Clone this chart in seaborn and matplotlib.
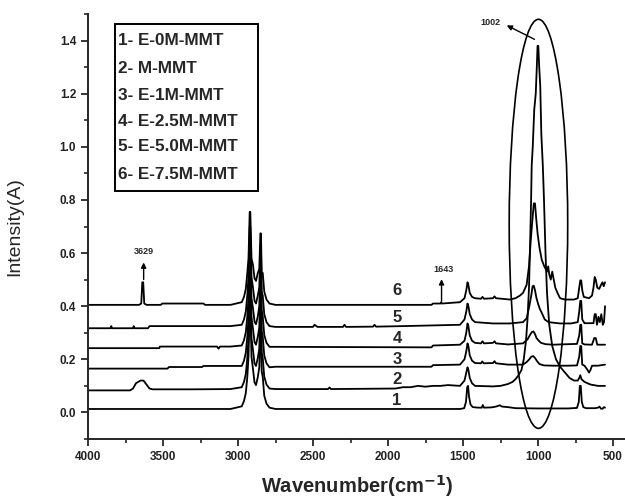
import numpy as np
import pandas as pd
import matplotlib
matplotlib.use("Agg")
import matplotlib.pyplot as plt
from matplotlib.patches import Ellipse, Rectangle
from matplotlib.ticker import MultipleLocator
import seaborn as sns

sns.set_style("ticks")
plt.rcParams["font.family"] = ["Liberation Sans", "DejaVu Sans"]

# FTIR spectra (wavenumber in cm^-1, absorbance offset per sample)
wn_1 = [4000, 3050, 2975, 2960, 2948, 2938, 2930, 2922, 2918, 2910, 2900, 2890, 2880, 2868,
        2858, 2851, 2847, 2842, 2835, 2825, 2810, 2790, 2750, 1520, 1492, 1480, 1472, 1466,
        1460, 1450, 1435, 1400, 1375, 1368, 1360, 1310, 1280, 1255, 1240, 1200, 1150, 1000,
        800, 740, 728, 721, 715, 708, 698, 680, 620, 600, 590, 580, 570, 560, 553]
a_1 = [0.013, 0.013, 0.023, 0.043, 0.073, 0.133, 0.21, 0.40, 0.40, 0.21, 0.163, 0.113, 0.103,
       0.133, 0.17, 0.33, 0.33, 0.155, 0.133, 0.063, 0.033, 0.018, 0.013, 0.013, 0.016, 0.04,
       0.095, 0.10, 0.06, 0.03, 0.02, 0.018, 0.018, 0.028, 0.018, 0.019, 0.022, 0.027, 0.022,
       0.02, 0.016, 0.015, 0.015, 0.017, 0.04, 0.10, 0.10, 0.04, 0.02, 0.016, 0.016, 0.018,
       0.022, 0.014, 0.014, 0.02, 0.018]

wn_2 = [4000, 3720, 3700, 3680, 3650, 3630, 3610, 3590, 3570, 3300, 3050, 2975, 2960, 2948,
        2938, 2930, 2922, 2918, 2910, 2900, 2890, 2880, 2868, 2858, 2851, 2847, 2842, 2835,
        2825, 2810, 2790, 2750, 2400, 2390, 2380, 1950, 1900, 1850, 1800, 1750, 1700, 1650,
        1600, 1520, 1490, 1478, 1470, 1464, 1455, 1440, 1420, 1300, 1250, 1200, 1170, 1150,
        1130, 1110, 1095, 1080, 1070, 1060, 1052, 1046, 1042, 1035, 1025, 1015, 1008, 1003,
        998, 992, 985, 978, 968, 960, 950, 940, 925, 905, 880, 850, 820, 790, 760, 735, 725,
        718, 710, 690, 650, 600, 553]
a_2 = [0.083, 0.083, 0.09, 0.11, 0.12, 0.12, 0.105, 0.09, 0.087, 0.087, 0.088, 0.095, 0.115,
       0.145, 0.205, 0.28, 0.47, 0.47, 0.28, 0.235, 0.185, 0.175, 0.205, 0.24, 0.40, 0.40,
       0.227, 0.205, 0.135, 0.105, 0.09, 0.088, 0.088, 0.094, 0.088, 0.09, 0.095, 0.095, 0.10,
       0.097, 0.10, 0.10, 0.103, 0.10, 0.12, 0.15, 0.17, 0.16, 0.13, 0.11, 0.10, 0.098, 0.10,
       0.107, 0.115, 0.125, 0.14, 0.16, 0.20, 0.27, 0.35, 0.47, 0.65, 0.80, 0.93, 1.00, 1.14,
       1.20, 1.30, 1.38, 1.38, 1.30, 1.23, 1.05, 0.93, 0.80, 0.60, 0.45, 0.33, 0.25, 0.20,
       0.17, 0.15, 0.13, 0.12, 0.12, 0.13, 0.14, 0.125, 0.115, 0.105, 0.10, 0.10]

wn_3 = [4000, 3470, 3460, 3240, 3230, 3050, 2975, 2960, 2948, 2938, 2930, 2922, 2918, 2910,
        2900, 2890, 2880, 2868, 2858, 2851, 2847, 2842, 2835, 2825, 2810, 2790, 2750, 1710,
        1700, 1520, 1490, 1478, 1470, 1464, 1455, 1440, 1420, 1380, 1372, 1362, 1300, 1290,
        1280, 1200, 1100, 1075, 1058, 1045, 1032, 1020, 1005, 990, 960, 900, 800, 740, 725,
        718, 712, 705, 690, 670, 660, 650, 640, 600, 553]
a_3 = [0.165, 0.165, 0.171, 0.171, 0.175, 0.175, 0.175, 0.195, 0.225, 0.285, 0.36, 0.55, 0.55,
       0.36, 0.315, 0.265, 0.255, 0.285, 0.32, 0.48, 0.48, 0.307, 0.285, 0.215, 0.185, 0.17,
       0.172, 0.172, 0.178, 0.18, 0.20, 0.23, 0.26, 0.25, 0.215, 0.195, 0.186, 0.185, 0.192,
       0.185, 0.186, 0.193, 0.185, 0.18, 0.18, 0.19, 0.20, 0.21, 0.212, 0.205, 0.192, 0.182,
       0.177, 0.176, 0.176, 0.177, 0.21, 0.25, 0.25, 0.18, 0.176, 0.16, 0.15, 0.16, 0.176,
       0.176, 0.18]

wn_4 = [4000, 3525, 3520, 3140, 3130, 3120, 3050, 2975, 2960, 2948, 2938, 2930, 2922, 2918,
        2910, 2900, 2890, 2880, 2868, 2858, 2851, 2847, 2842, 2835, 2825, 2810, 2790, 2750,
        1710, 1700, 1520, 1490, 1478, 1470, 1464, 1455, 1440, 1420, 1380, 1370, 1360, 1300,
        1290, 1280, 1200, 1100, 1070, 1050, 1040, 1030, 1020, 1010, 995, 980, 950, 900, 853,
        740, 725, 718, 712, 705, 690, 640, 625, 615, 605, 553]
a_4 = [0.242, 0.242, 0.248, 0.248, 0.24, 0.248, 0.248, 0.252, 0.272, 0.302, 0.362, 0.43, 0.62,
       0.62, 0.43, 0.392, 0.342, 0.332, 0.362, 0.40, 0.56, 0.56, 0.385, 0.362, 0.292, 0.262,
       0.247, 0.247, 0.245, 0.252, 0.255, 0.27, 0.30, 0.335, 0.325, 0.29, 0.27, 0.262, 0.26,
       0.268, 0.26, 0.262, 0.268, 0.26, 0.256, 0.26, 0.275, 0.295, 0.303, 0.305, 0.295, 0.28,
       0.27, 0.262, 0.257, 0.255, 0.256, 0.258, 0.29, 0.33, 0.33, 0.26, 0.256, 0.255, 0.28,
       0.28, 0.255, 0.255]

wn_5 = [4000, 3850, 3845, 3840, 3700, 3695, 3690, 3600, 3590, 3050, 2975, 2960, 2948, 2938,
        2930, 2922, 2918, 2910, 2900, 2890, 2880, 2868, 2858, 2851, 2847, 2842, 2835, 2825,
        2810, 2790, 2750, 2500, 2490, 2470, 2300, 2290, 2280, 2100, 2090, 2080, 1900, 1520,
        1490, 1478, 1470, 1464, 1455, 1440, 1420, 1300, 1187, 1100, 1075, 1058, 1045, 1036,
        1028, 1020, 1010, 1000, 988, 975, 955, 930, 900, 853, 780, 735, 725, 718, 712, 705,
        690, 630, 622, 615, 607, 597, 588, 578, 568, 560, 553]
a_5 = [0.317, 0.317, 0.325, 0.317, 0.317, 0.325, 0.317, 0.317, 0.325, 0.325, 0.33, 0.35, 0.38,
       0.44, 0.51, 0.70, 0.70, 0.51, 0.47, 0.42, 0.41, 0.44, 0.47, 0.62, 0.62, 0.455, 0.44,
       0.37, 0.34, 0.325, 0.322, 0.322, 0.33, 0.322, 0.322, 0.33, 0.322, 0.323, 0.33, 0.323,
       0.325, 0.33, 0.35, 0.38, 0.41, 0.40, 0.37, 0.35, 0.34, 0.335, 0.335, 0.34, 0.355, 0.40,
       0.44, 0.475, 0.477, 0.46, 0.43, 0.41, 0.39, 0.375, 0.35, 0.34, 0.338, 0.335, 0.335,
       0.34, 0.38, 0.42, 0.42, 0.35, 0.336, 0.336, 0.37, 0.37, 0.33, 0.36, 0.34, 0.37, 0.33,
       0.34, 0.40]

wn_6 = [4000, 3660, 3645, 3638, 3632, 3625, 3610, 3515, 3505, 3230, 3220, 3050, 2975, 2960,
        2948, 2938, 2930, 2922, 2918, 2910, 2900, 2890, 2880, 2868, 2858, 2851, 2847, 2842,
        2835, 2825, 2810, 2790, 2750, 1710, 1700, 1650, 1645, 1640, 1520, 1490, 1478, 1470,
        1464, 1455, 1440, 1420, 1380, 1370, 1360, 1300, 1290, 1280, 1187, 1150, 1120, 1100,
        1076, 1060, 1048, 1038, 1028, 1020, 1012, 1002, 990, 975, 958, 940, 932, 925, 915,
        905, 895, 885, 870, 853, 820, 760, 735, 725, 718, 712, 705, 695, 660, 640, 630, 622,
        615, 605, 592, 580, 570, 562, 553]
a_6 = [0.405, 0.405, 0.41, 0.49, 0.49, 0.41, 0.405, 0.405, 0.41, 0.41, 0.405, 0.405, 0.415,
       0.435, 0.465, 0.525, 0.58, 0.755, 0.755, 0.58, 0.555, 0.505, 0.495, 0.525, 0.54, 0.674,
       0.674, 0.526, 0.525, 0.455, 0.425, 0.41, 0.405, 0.405, 0.41, 0.41, 0.415, 0.41, 0.415,
       0.43, 0.46, 0.49, 0.48, 0.45, 0.435, 0.43, 0.428, 0.435, 0.428, 0.43, 0.437, 0.43,
       0.425, 0.43, 0.44, 0.45, 0.48, 0.55, 0.65, 0.72, 0.787, 0.787, 0.73, 0.67, 0.62, 0.575,
       0.55, 0.53, 0.55, 0.52, 0.50, 0.53, 0.50, 0.47, 0.45, 0.43, 0.425, 0.425, 0.43, 0.47,
       0.497, 0.497, 0.46, 0.435, 0.43, 0.44, 0.47, 0.51, 0.50, 0.47, 0.465, 0.48, 0.49,
       0.475, 0.49]

samples = ["1", "2", "3", "4", "5", "6"]
sample_names = ["1- E-0M-MMT", "2- M-MMT", "3- E-1M-MMT",
                "4- E-2.5M-MMT", "5- E-5.0M-MMT", "6- E-7.5M-MMT"]
label_wn = 1940
label_y = [0.044, 0.123, 0.201, 0.277, 0.356, 0.459]

wn_all = [wn_1, wn_2, wn_3, wn_4, wn_5, wn_6]
a_all = [a_1, a_2, a_3, a_4, a_5, a_6]
frames = []
for s, w, a in zip(samples, wn_all, a_all):
    frames.append(pd.DataFrame({"wavenumber": w, "intensity": a, "sample": s}))
df = pd.concat(frames, ignore_index=True)

W, H = 625, 503
fig = plt.figure(figsize=(W / 100, H / 100), dpi=100)
x_left, x_right = 4000, 420
ax_w_px = (x_left - x_right) * 0.15
ax = fig.add_axes([88 / W, (H - 439) / H, ax_w_px / W, 425 / H])

sns.lineplot(data=df, x="wavenumber", y="intensity", units="sample", estimator=None,
             sort=False, color="black", linewidth=1.3, ax=ax, legend=False)

ax.set_xlim(x_left, x_right)
ax.set_ylim(-0.1, 1.5)
ax.xaxis.set_major_locator(MultipleLocator(500))
ax.xaxis.set_minor_locator(MultipleLocator(250))
ax.yaxis.set_major_locator(MultipleLocator(0.2))
ax.yaxis.set_minor_locator(MultipleLocator(0.1))
ax.yaxis.set_major_formatter(plt.FuncFormatter(lambda v, p: f"{v:.1f}"))
ax.tick_params(which="major", direction="out", length=5, width=1.3, labelsize=8.5,
               labelcolor="#222222")
ax.tick_params(which="minor", direction="out", length=3, width=1.2)
for lab in ax.get_xticklabels() + ax.get_yticklabels():
    lab.set_fontweight("bold")
sns.despine(ax=ax)
for sp in ("left", "bottom"):
    ax.spines[sp].set_linewidth(1.4)
ax.set_xlabel("")
ax.set_ylabel("")

# curve numbers
for s, y in zip(samples, label_y):
    ax.text(label_wn, y, s, ha="center", va="center", fontsize=12, fontweight="bold")

# ellipse around the Si-O band
ax.add_patch(Ellipse((997, 0.71), width=390, height=1.54, fill=False,
                     edgecolor="black", linewidth=1.2))

# peak annotations
ax.text(3629, 0.606, "3629", ha="center", va="center", fontsize=6.5, fontweight="bold")
ax.annotate("", xy=(3629, 0.575), xytext=(3629, 0.49),
            arrowprops=dict(arrowstyle="-|>,head_width=0.15,head_length=0.3",
                            color="black", lw=1.0))
ax.text(1631, 0.537, "1643", ha="center", va="center", fontsize=6.5, fontweight="bold")
ax.annotate("", xy=(1643, 0.512), xytext=(1643, 0.408),
            arrowprops=dict(arrowstyle="-|>,head_width=0.15,head_length=0.3",
                            color="black", lw=1.0))
ax.text(1320, 1.468, "1002", ha="center", va="center", fontsize=6.5, fontweight="bold")
ax.annotate("", xy=(1225, 1.462), xytext=(1007, 1.40),
            arrowprops=dict(arrowstyle="-|>,head_width=0.15,head_length=0.3",
                            color="black", lw=1.0))

# sample key box
ax.add_patch(Rectangle((0.0503, 0.5835), 0.2663, 0.393, transform=ax.transAxes,
                       fill=False, edgecolor="black", linewidth=1.4))
key_y = [0.9365, 0.8729, 0.8094, 0.7482, 0.6871, 0.6212]
for name, y in zip(sample_names, key_y):
    ax.text(0.0559, y, name, transform=ax.transAxes, ha="left", va="center",
            fontsize=12.3, fontweight="bold")

fig.text(15 / W, 1 - 227 / H, "Intensity(A)", rotation=90, ha="center", va="center",
         fontsize=14)
fig.text(357 / W, 1 - 486 / H, r"Wavenumber(cm$^{\mathbf{-1}}$)", ha="center", va="center",
         fontsize=14.5, fontweight="bold")

fig.savefig("out.png", dpi=100)
